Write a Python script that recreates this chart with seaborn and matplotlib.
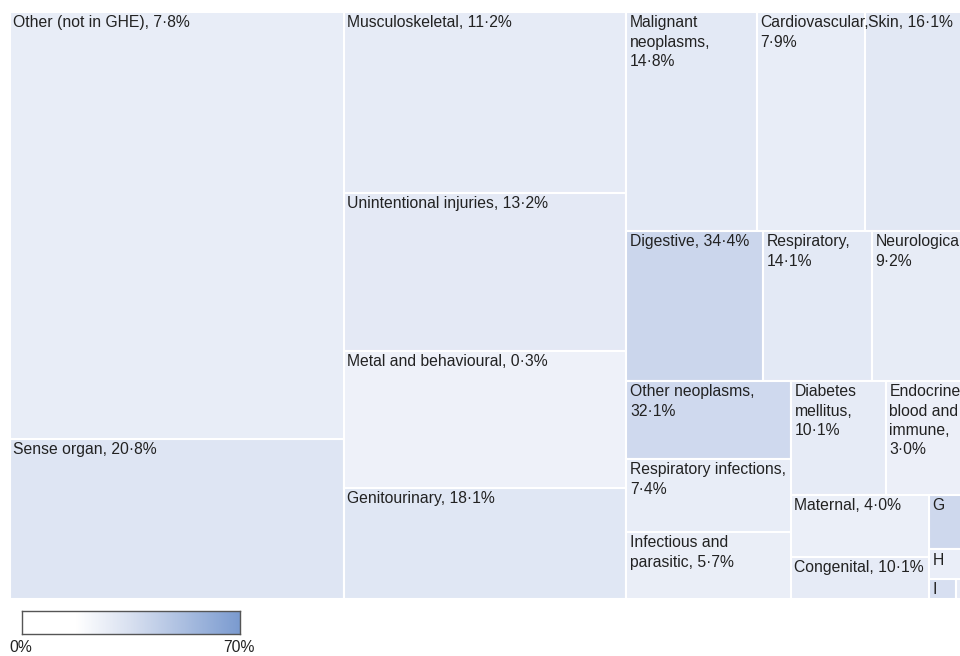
import numpy as np
import matplotlib
matplotlib.use('Agg')
import matplotlib.pyplot as plt
from matplotlib.colors import LinearSegmentedColormap
import seaborn as sns

# burden of each cause (relative size of cell) and share (%) used for colour
causes = ['Other (not in GHE)', 'Sense organ', 'Musculoskeletal', 'Unintentional injuries',
          'Metal and behavioural', 'Genitourinary', 'Malignant neoplasms', 'Cardiovascular',
          'Skin', 'Digestive', 'Respiratory', 'Neurological', 'Other neoplasms',
          'Respiratory infections', 'Infectious and parasitic', 'Diabetes mellitus',
          'Endocrine, blood and immune', 'Maternal', 'Congenital', 'G', 'H', 'I', 'J']
burden = [1426.2, 534.4, 511.3, 446.4, 387.0, 313.6, 285.8, 236.5, 225.6, 204.8, 163.5,
          144.0, 128.3, 120.1, 110.2, 108.3, 93.5, 85.6, 58.0, 21.1, 11.7, 5.4, 2.4]
pct = [7.8, 20.8, 11.2, 13.2, 0.3, 18.1, 14.8, 7.9, 16.1, 34.4, 14.1, 9.2, 32.1, 7.4,
       5.7, 10.1, 3.0, 4.0, 10.1, 33.0, 5.0, 26.0, 10.0]
# how the label is written inside each cell
label_fmt = ['Other (not in GHE), {}', 'Sense organ, {}', 'Musculoskeletal, {}',
             'Unintentional injuries, {}', 'Metal and behavioural, {}', 'Genitourinary, {}',
             'Malignant\nneoplasms,\n{}', 'Cardiovascular,\n{}', 'Skin, {}', 'Digestive, {}',
             'Respiratory,\n{}', 'Neurological,\n{}', 'Other neoplasms,\n{}',
             'Respiratory infections,\n{}', 'Infectious and\nparasitic, {}',
             'Diabetes\nmellitus,\n{}', 'Endocrine,\nblood and\nimmune,\n{}',
             'Maternal, {}', 'Congenital, {}', 'G', 'H', 'I', 'J']
vmax = 70


def squarify(values, x0, y0, x1, y1, ratio=(1 + 5 ** 0.5) / 2):
    # same idea as d3.treemapSquarify (golden ratio)
    rects = []
    value = sum(values)
    i0, n = 0, len(values)
    while i0 < n:
        dx, dy = x1 - x0, y1 - y0
        i1 = i0
        s = values[i1]
        i1 += 1
        mn = mx = s
        alpha = max(dy / dx, dx / dy) / (value * ratio)
        beta = s * s * alpha
        min_ratio = max(mx / beta, beta / mn)
        while i1 < n:
            v = values[i1]
            s2 = s + v
            beta = s2 * s2 * alpha
            nr = max(max(mx, v) / beta, beta / min(mn, v))
            if nr > min_ratio:
                break
            s, mn, mx, min_ratio = s2, min(mn, v), max(mx, v), nr
            i1 += 1
        row = values[i0:i1]
        if dx < dy:
            h = dy * s / value
            xx = x0
            for v in row:
                w = dx * v / s
                rects.append((xx, y0, w, h))
                xx += w
            y0 += h
        else:
            w = dx * s / value
            yy = y0
            for v in row:
                h = dy * v / s
                rects.append((x0, yy, w, h))
                yy += h
            x0 += w
        value -= s
        i0 = i1
    return rects


sns.set_theme(style='white')
plt.rcParams['font.family'] = ['Liberation Sans', 'DejaVu Sans']

cell_cmap = LinearSegmentedColormap.from_list(
    'cells', [(0, '#eef1f9'), (0.3, '#dee5f3'), (0.48, '#cdd7ed'), (1, '#7b9bd0')])
bar_cmap = LinearSegmentedColormap.from_list(
    'bar', [(0, '#ffffff'), (0.25, '#ffffff'), (0.5, '#d8e0f0'), (1, '#7b9bd0')])

W, H = 958, 587
fig = plt.figure(figsize=(9.6, 6.56), dpi=100)
ax = fig.add_axes([10 / 960, 1 - 599 / 656, W / 960, H / 656])

rects = squarify(burden, 0, 0, W, H)
xs = [r[0] for r in rects]
ys = [r[1] for r in rects]
ws = [r[2] for r in rects]
hs = [r[3] for r in rects]
colors = [cell_cmap(p / vmax) for p in pct]
ax.bar(xs, hs, width=ws, bottom=ys, align='edge', color=colors, edgecolor='white', linewidth=1.5)

for (x, y, w, h), fmt, p in zip(rects, label_fmt, pct):
    txt = fmt.format(f'{p:.1f}'.replace('.', '·') + '%')
    ax.annotate(txt, (x, y), xytext=(2.5, -2.5), textcoords='offset points',
                ha='left', va='top', fontsize=11.3, color='#222222', linespacing=1.36)

ax.set_xlim(0, W)
ax.set_ylim(H, 0)
ax.axis('off')

# colour scale
cax = fig.add_axes([22 / 960, 1 - 634 / 656, 218 / 960, 23 / 656])
grad = np.linspace(0, 1, 256).reshape(1, -1)
cax.imshow(grad, aspect='auto', cmap=bar_cmap, extent=[0, vmax, 0, 1])
cax.set_xticks([])
cax.set_yticks([])
for sp in cax.spines.values():
    sp.set_visible(True)
    sp.set_color('#555555')
    sp.set_linewidth(1)
fig.text(21 / 960, 1 - 648 / 656, '0%', ha='center', va='center', fontsize=11.3, color='#222222')
fig.text(239 / 960, 1 - 648 / 656, '70%', ha='center', va='center', fontsize=11.3, color='#222222')

fig.savefig('out.png', dpi=100)
